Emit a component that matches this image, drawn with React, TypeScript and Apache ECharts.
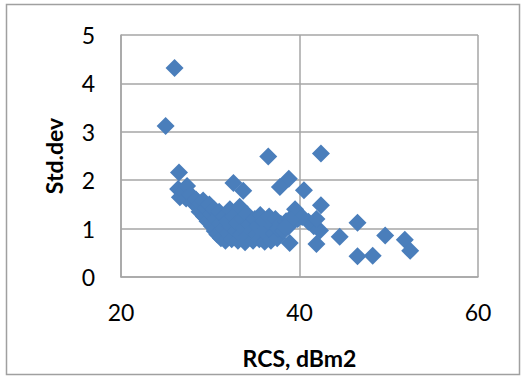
import React, { useEffect, useRef } from "react";
import * as echarts from "echarts";

const xTicks = [20, 40, 60];
const yTicks = [0, 1, 2, 3, 4, 5];

// [RCS dBm2, Std.dev]
const outliers: number[][] = [
  [26.0, 4.32], [25.0, 3.12], [26.5, 2.16], [36.5, 2.49], [42.4, 2.55],
  [32.6, 1.94], [33.7, 1.78], [38.8, 2.03], [37.8, 1.86], [40.5, 1.79],
  [42.4, 1.48], [39.5, 1.4], [46.5, 1.12], [44.5, 0.83], [49.6, 0.86],
  [51.8, 0.77], [52.4, 0.54], [46.5, 0.43], [48.2, 0.44], [41.9, 0.68],
  [38.9, 0.7], [42.3, 0.96], [41.6, 1.05], [41.0, 1.14], [40.3, 1.24],
  [41.9, 1.2], [39.0, 1.17], [38.4, 1.03],
];

const cluster: number[][] = [
  [26.4, 1.82], [26.6, 1.65], [27.0, 1.75], [27.4, 1.88], [27.3, 1.62],
  [27.8, 1.7], [28.0, 1.55], [28.4, 1.6], [28.6, 1.45], [28.9, 1.52],
  [28.8, 1.35], [29.2, 1.58], [29.3, 1.25], [29.5, 1.42], [29.7, 1.15],
  [29.9, 1.5], [30.0, 1.3], [30.2, 1.05], [30.4, 1.4], [30.5, 0.95],
  [30.6, 1.2], [30.8, 0.88], [31.0, 1.35], [31.1, 1.1], [31.2, 0.8],
  [31.4, 1.0], [31.5, 1.25], [31.7, 0.75], [31.9, 1.15], [32.0, 0.9],
  [32.2, 1.4], [32.3, 1.05], [32.4, 0.78], [32.6, 1.25], [32.8, 0.95],
  [33.0, 1.1], [33.1, 0.75], [33.3, 1.45], [33.4, 0.88], [33.6, 1.2],
  [33.8, 1.0], [33.9, 0.72], [34.1, 1.3], [34.2, 0.85], [34.4, 1.1],
  [34.6, 0.95], [34.8, 0.75], [35.0, 1.2], [35.1, 0.88], [35.3, 1.05],
  [35.5, 0.78], [35.6, 1.28], [35.8, 0.95], [36.0, 1.15], [36.1, 0.73],
  [36.3, 1.0], [36.5, 0.85], [36.6, 1.25], [36.8, 0.75], [37.0, 1.05],
  [37.1, 0.9], [37.3, 1.2], [37.5, 0.8], [37.6, 1.0], [37.9, 1.1],
  [38.2, 0.95], [38.5, 1.15], [38.8, 1.05], [39.2, 1.25], [39.8, 1.2],
];

export default function App() {
  const ref = useRef<HTMLDivElement>(null);
  useEffect(() => {
    if (!ref.current) return;
    const chart = echarts.init(ref.current, undefined, { renderer: "svg" });
    const font = "Lato, 'Open Sans', sans-serif";
    const grid = "#a6a6a6";
    chart.setOption({
      animation: false,
      backgroundColor: "#ffffff",
      graphic: [
        {
          type: "rect",
          shape: { x: 6.5, y: 4.5, width: 513, height: 370 },
          style: { fill: "none", stroke: "#a0a0a0", lineWidth: 1.5 },
          silent: true,
          z: -1,
        },
      ],
      grid: { left: 121, right: 43, top: 35, bottom: 99 },
      xAxis: {
        type: "value",
        min: xTicks[0],
        max: xTicks[xTicks.length - 1],
        interval: 20,
        name: "RCS, dBm2",
        nameLocation: "middle",
        nameGap: 69,
        nameTextStyle: { fontFamily: font, fontSize: 23, fontWeight: "bold", color: "#000" },
        axisLine: { show: true, lineStyle: { color: grid, width: 1.5 } },
        axisTick: { show: false },
        axisLabel: { fontFamily: font, fontSize: 23, color: "#000", margin: 23 },
        splitLine: { show: true, lineStyle: { color: grid, width: 1.5 } },
      },
      yAxis: {
        type: "value",
        min: yTicks[0],
        max: yTicks[yTicks.length - 1],
        interval: 1,
        name: "Std.dev",
        nameLocation: "middle",
        nameGap: 56,
        nameTextStyle: { fontFamily: font, fontSize: 23, fontWeight: "bold", color: "#000" },
        axisLine: { show: true, lineStyle: { color: grid, width: 1.5 } },
        axisTick: { show: false },
        axisLabel: { fontFamily: font, fontSize: 23, color: "#000", margin: 26 },
        splitLine: { show: true, lineStyle: { color: grid, width: 1.5 } },
      },
      series: [
        {
          type: "scatter",
          symbol: "diamond",
          symbolSize: 18,
          data: [...cluster, ...outliers],
          itemStyle: { color: "#4a7ebb", opacity: 1 },
        },
      ],
    });
    return () => chart.dispose();
  }, []);
  return (
    <div
      ref={ref}
      style={{ position: "fixed", left: 0, top: 0, width: 521, height: 376 }}
    />
  );
}
